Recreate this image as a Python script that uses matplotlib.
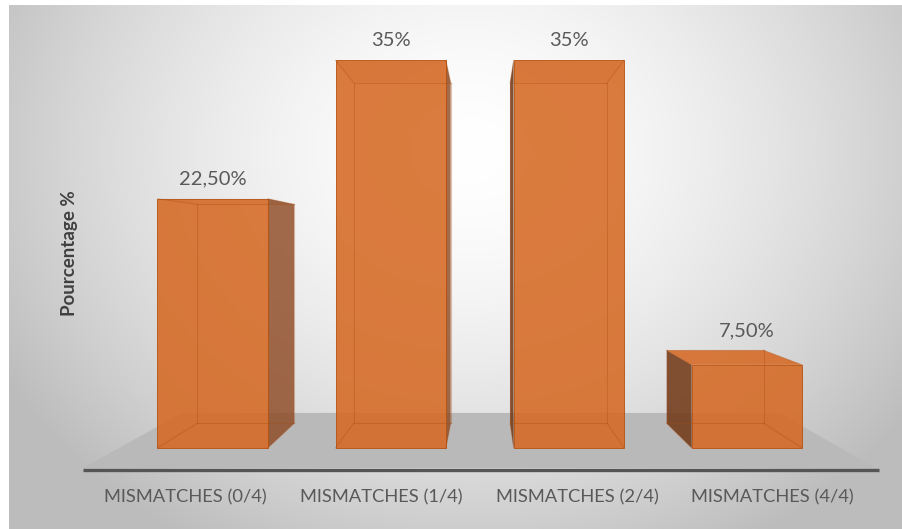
import numpy as np
import matplotlib.pyplot as plt
from matplotlib.patches import Polygon

categories = ['MISMATCHES (0/4)', 'MISMATCHES (1/4)', 'MISMATCHES (2/4)', 'MISMATCHES (4/4)']
values = [22.5, 35.0, 35.0, 7.5]
ylabel = 'Pourcentage %'


def fmt_pct(v):
    if float(v).is_integer():
        return '%d%%' % v
    return ('%.2f%%' % v).replace('.', ',')


# simple one-point perspective: pixels on the front plane, shrunk toward VP
VP = (485.0, 245.0)
X0, DX = 185.7, 195.7      # category centre / spacing on front plane
Y0, DY = 468.0, 12.17      # ground line / pixels per percent
S_FRONT, S_BACK = 0.91, 0.80
S_FLOOR_BACK = 0.753
HALF_W = 0.31


def project(cx, h, s):
    X = X0 + DX * cx
    Y = Y0 - DY * h
    return (VP[0] + s * (X - VP[0]), VP[1] + s * (Y - VP[1]))


fig = plt.figure(figsize=(9.03, 5.29), dpi=100)
ax = fig.add_axes([0, 0, 1, 1])
ax.set_xlim(0, 903)
ax.set_ylim(529, 0)
ax.axis('off')

# radial grey-to-white chart background
gx, gy = np.meshgrid(np.linspace(9, 903, 400), np.linspace(5, 529, 240))
r = np.sqrt(((gx - 470) / 470.0) ** 2 + ((gy - 150) / 400.0) ** 2)
shade = 1.0 - 0.21 * np.clip(r, 0, 1.15) ** 1.6
bg = np.dstack([shade, shade, shade])
ax.imshow(bg, extent=(9, 903, 529, 5), aspect='auto', zorder=0, interpolation='bicubic')

# floor
n = len(values)
fl = [project(-0.525, 0, 1.0), project(n - 0.475, 0, 1.0),
      project(n - 0.475, 0, S_FLOOR_BACK), project(-0.525, 0, S_FLOOR_BACK)]
ax.add_patch(Polygon(fl, closed=True, facecolor='#b9b9b9', edgecolor='none', zorder=1))
ax.plot([fl[0][0], fl[1][0] + 3], [fl[0][1] + 1.5, fl[1][1] + 1.5], color='#555555',
        lw=2.4, solid_capstyle='butt', zorder=2)

face = (0.84, 0.41, 0.14)
edge = '#b8520f'
dark = (0.45, 0.23, 0.10)

for i, v in enumerate(values):
    xl, xr = i - HALF_W, i + HALF_W
    fbl, fbr = project(xl, 0, S_FRONT), project(xr, 0, S_FRONT)
    ftl, ftr = project(xl, v, S_FRONT), project(xr, v, S_FRONT)
    bbl, bbr = project(xl, 0, S_BACK), project(xr, 0, S_BACK)
    btl, btr = project(xl, v, S_BACK), project(xr, v, S_BACK)

    # side face that faces the camera
    if bbl[0] < fbl[0]:
        ax.add_patch(Polygon([fbl, ftl, btl, bbl], facecolor=dark, alpha=0.88,
                             edgecolor='none', zorder=3))
    if bbr[0] > fbr[0]:
        ax.add_patch(Polygon([fbr, ftr, btr, bbr], facecolor=(0.55, 0.28, 0.12), alpha=0.8,
                             edgecolor='none', zorder=3))
    # top face (seen from above when below VP, through the glass otherwise)
    top_seen = ftl[1] > VP[1]
    ax.add_patch(Polygon([ftl, ftr, btr, btl], facecolor=face if top_seen else dark,
                         alpha=0.88 if top_seen else 0.12, edgecolor='none', zorder=3))
    # front face
    ax.add_patch(Polygon([fbl, fbr, ftr, ftl], facecolor=face, alpha=0.88,
                         edgecolor=edge, lw=0.7, zorder=4))
    # back edges showing through
    for a, b in [(bbl, bbr), (bbr, btr), (btr, btl), (btl, bbl),
                 (fbl, bbl), (fbr, bbr), (ftl, btl), (ftr, btr)]:
        ax.plot([a[0], b[0]], [a[1], b[1]], color='#a94a0d', lw=0.8, alpha=0.32, zorder=5)

    ax.text((ftl[0] + ftr[0]) / 2, min(ftl[1], btl[1]) - 20, fmt_pct(v),
            ha='center', va='center', fontsize=14.5, color='#595959',
            family='Lato', zorder=6)

for i, c in enumerate(categories):
    px, _ = project(i, 0, 1.0)
    ax.text(px, 497, c, ha='center', va='center', fontsize=13.2, color='#595959',
            family='Lato', zorder=6)

ax.text(70, 253, ylabel, rotation=90, ha='center', va='center', fontsize=13.5,
        fontweight='bold', color='#404040', family='Lato', zorder=6)

fig.savefig('out.png', dpi=100)
